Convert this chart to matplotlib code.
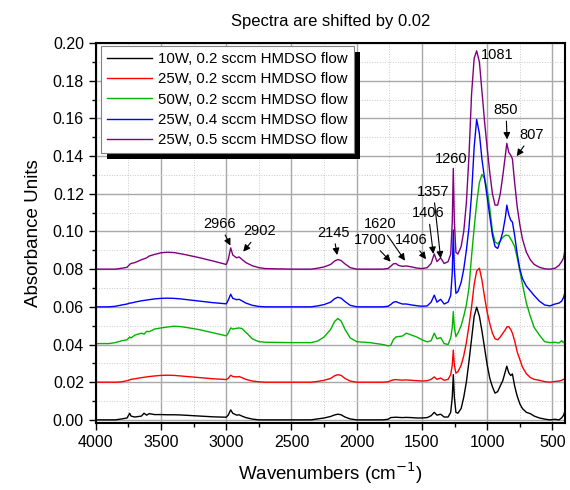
# -*- coding: utf-8 -*-

import numpy as np
import matplotlib as mpl
import matplotlib.pyplot as plt
from matplotlib.patches import Rectangle
from matplotlib.transforms import IdentityTransform
from matplotlib.ticker import MultipleLocator

mpl.rcParams['font.family'] = ['Liberation Sans', 'DejaVu Sans']
mpl.rcParams['savefig.facecolor'] = 'white'

# common wavenumber grid (cm-1)
wavenumbers = [
    4000, 3900, 3850, 3800, 3760, 3740, 3730, 3700, 3650, 3630, 3610, 3590,
    3550, 3500, 3450, 3400, 3350, 3300, 3200, 3100, 3000, 2985, 2966, 2950,
    2920, 2902, 2880, 2850, 2800, 2750, 2700, 2500, 2350, 2300, 2250, 2200,
    2170, 2145, 2120, 2090, 2050, 2000, 1900, 1800, 1760, 1740, 1720, 1700,
    1680, 1650, 1620, 1580, 1540, 1500, 1460, 1430, 1406, 1385, 1357, 1330,
    1300, 1280, 1268, 1260, 1252, 1240, 1225, 1200, 1180, 1160, 1140, 1120,
    1100, 1081, 1060, 1040, 1020, 1000, 980, 960, 940, 920, 900, 880,
    860, 850, 835, 820, 807, 790, 770, 750, 730, 700, 670, 640,
    600, 560, 520, 480, 450, 430, 415, 405,
]

# absorbance before shifting
abs_10w_02 = [
    0.0, 0.0, 0.0, 0.0005, 0.001, 0.0035, 0.002, 0.0015, 0.002, 0.0035, 0.0025, 0.0033,
    0.0028, 0.0028, 0.0027, 0.0027, 0.0026, 0.0024, 0.002, 0.0016, 0.0014, 0.0025, 0.0053, 0.0035,
    0.0025, 0.0027, 0.002, 0.0012, 0.0004, 0.0, 0.0, 0.0, 0.0, 0.0005, 0.001, 0.0018,
    0.0026, 0.003, 0.0027, 0.0015, 0.0005, 0.0, 0.0, 0.0, 0.0003, 0.0012, 0.0013, 0.0014,
    0.0013, 0.0012, 0.0013, 0.0012, 0.001, 0.001, 0.0012, 0.0022, 0.004, 0.0025, 0.003, 0.0015,
    0.0015, 0.004, 0.012, 0.024, 0.012, 0.004, 0.0035, 0.006, 0.012, 0.02, 0.031, 0.043,
    0.055, 0.0598, 0.055, 0.047, 0.038, 0.029, 0.022, 0.0175, 0.0142, 0.015, 0.018, 0.021,
    0.026, 0.0285, 0.025, 0.0235, 0.0244, 0.018, 0.0125, 0.0085, 0.006, 0.004, 0.0033, 0.002,
    0.001, 0.0004, 0.0, 0.0003, 0.0, 0.001, 0.0025, 0.0045,
]
abs_25w_02 = [
    0.0, 0.0, 0.0, 0.0002, 0.0008, 0.0012, 0.0015, 0.0018, 0.0024, 0.0026, 0.0028, 0.003,
    0.0033, 0.0036, 0.0037, 0.0036, 0.0033, 0.003, 0.0024, 0.0018, 0.0014, 0.002, 0.0037, 0.003,
    0.0028, 0.003, 0.0024, 0.0015, 0.0006, 0.0002, 0.0, 0.0, 0.0, 0.0004, 0.001, 0.002,
    0.0034, 0.004, 0.0036, 0.002, 0.0006, 0.0, 0.0, 0.0, 0.0002, 0.0008, 0.0012, 0.0014,
    0.0012, 0.0011, 0.0012, 0.001, 0.0008, 0.0006, 0.0008, 0.0015, 0.0028, 0.0015, 0.0022, 0.001,
    0.0015, 0.004, 0.009, 0.0171, 0.009, 0.0048, 0.0055, 0.009, 0.014, 0.021, 0.03, 0.04,
    0.052, 0.059, 0.0605, 0.054, 0.045, 0.037, 0.031, 0.026, 0.023, 0.0225, 0.024, 0.026,
    0.028, 0.0293, 0.0295, 0.028, 0.026, 0.022, 0.016, 0.012, 0.008, 0.0045, 0.0025, 0.0015,
    0.001, 0.0003, 0.0, 0.0004, 0.0006, 0.001, 0.0015, 0.002,
]
abs_50w_02 = [
    0.0005, 0.0005, 0.001, 0.002, 0.0025, 0.004, 0.0035, 0.005, 0.006, 0.0055, 0.007, 0.0068,
    0.0082, 0.0088, 0.0093, 0.0097, 0.0095, 0.009, 0.0078, 0.0062, 0.0046, 0.006, 0.0088, 0.0082,
    0.0086, 0.0088, 0.0085, 0.0065, 0.003, 0.0015, 0.0012, 0.001, 0.001, 0.0018, 0.004, 0.008,
    0.0122, 0.0138, 0.0125, 0.008, 0.0035, 0.0015, 0.001, 0.0, -0.0007, -0.0005, 0.0025, 0.004,
    0.0042, 0.0045, 0.006, 0.005, 0.004, 0.0025, 0.0014, 0.002, 0.006, 0.003, 0.0037, 0.0005,
    0.0, 0.0035, 0.009, 0.0175, 0.009, 0.0042, 0.006, 0.01, 0.015, 0.021, 0.03, 0.047,
    0.062, 0.075, 0.086, 0.0903, 0.088, 0.082, 0.072, 0.06, 0.0545, 0.0535, 0.055, 0.057,
    0.058, 0.058, 0.0578, 0.056, 0.0545, 0.052, 0.046, 0.039, 0.032, 0.022, 0.015, 0.009,
    0.005, 0.0015, 0.001, 0.0012, 0.0008, 0.002, 0.001, 0.002,
]
abs_25w_04 = [
    0.0, 0.0, 0.0003, 0.001, 0.0015, 0.002, 0.002, 0.0025, 0.0032, 0.0034, 0.0036, 0.0038,
    0.0042, 0.0045, 0.0046, 0.0045, 0.0042, 0.0038, 0.003, 0.0022, 0.0016, 0.0035, 0.0067, 0.0045,
    0.0038, 0.004, 0.0032, 0.002, 0.0008, 0.0002, 0.0, 0.0, 0.0, 0.0005, 0.0012, 0.0025,
    0.0043, 0.0051, 0.0046, 0.0028, 0.0008, 0.0, 0.0, 0.0, 0.0003, 0.0012, 0.0024, 0.0028,
    0.0022, 0.0015, 0.0015, 0.001, 0.0006, 0.0003, 0.0005, 0.0025, 0.0062, 0.0025, 0.004, 0.0015,
    0.0025, 0.006, 0.018, 0.0408, 0.02, 0.0072, 0.008, 0.013, 0.02, 0.03, 0.042, 0.06,
    0.085, 0.0995, 0.092, 0.078, 0.068, 0.058, 0.048, 0.038, 0.032, 0.031, 0.035, 0.04,
    0.048, 0.054, 0.049, 0.046, 0.045, 0.038, 0.028, 0.02, 0.015, 0.011, 0.0085, 0.006,
    0.003, 0.001, 0.0005, 0.0015, 0.002, 0.003, 0.005, 0.0075,
]
abs_25w_05 = [
    0.0, 0.0, 0.0, 0.0005, 0.001, 0.0025, 0.003, 0.0035, 0.005, 0.0055, 0.006, 0.007,
    0.0078, 0.0087, 0.009, 0.0088, 0.0082, 0.0075, 0.006, 0.0043, 0.0025, 0.005, 0.0113, 0.0075,
    0.006, 0.0065, 0.0052, 0.0035, 0.0018, 0.0008, 0.0003, 0.0, 0.0, 0.0005, 0.0012, 0.0025,
    0.0043, 0.0051, 0.0046, 0.0028, 0.0008, 0.0, 0.0, 0.0, 0.0004, 0.0015, 0.0028, 0.003,
    0.002, 0.0015, 0.0017, 0.0012, 0.0006, 0.0003, 0.0008, 0.003, 0.0081, 0.004, 0.006, 0.003,
    0.004, 0.008, 0.025, 0.0535, 0.025, 0.009, 0.008, 0.012, 0.02, 0.035, 0.06, 0.093,
    0.112, 0.1159, 0.11, 0.094, 0.078, 0.064, 0.051, 0.04, 0.034, 0.034, 0.04, 0.05,
    0.061, 0.0668, 0.062, 0.0605, 0.0585, 0.046, 0.033, 0.0235, 0.016, 0.009, 0.005, 0.0025,
    0.001, 0.0002, 0.0, 0.0005, 0.002, 0.004, 0.006, 0.01,
]

series_labels = [
    '10W, 0.2 sccm HMDSO flow',
    '25W, 0.2 sccm HMDSO flow',
    '50W, 0.2 sccm HMDSO flow',
    '25W, 0.4 sccm HMDSO flow',
    '25W, 0.5 sccm HMDSO flow',
]
series_colors = ['#000000', '#ff0000', '#00b400', '#0000ff', '#800080']
shift = 0.02

# label, arrow tip (None = no arrow), text position
peak_notes = [
    ('2966', (2968, 0.0925), (3050, 0.104)),
    ('2902', (2870, 0.0893), (2742, 0.100)),
    ('2145', (2150, 0.0875), (2180, 0.0994)),
    ('1700', (1740, 0.0840), (1899, 0.0955)),
    ('1620', (1630, 0.0845), (1822, 0.1038)),
    ('1406', (1469, 0.0853), (1579, 0.0955)),
    ('1406', (1413, 0.0881), (1452, 0.1097)),
    ('1357', (1357, 0.0857), (1413, 0.1211)),
    ('1260', None, (1273, 0.1383)),
    ('1081', None, (927, 0.1936)),
    ('850', (848, 0.1489), (856, 0.1645)),
    ('807', (774, 0.1400), (659, 0.1512)),
]

fig = plt.figure(figsize=(5.7, 4.9), dpi=100)
ax = fig.add_axes([0.168, 0.137, 0.823, 0.775])

series = [abs_10w_02, abs_25w_02, abs_50w_02, abs_25w_04, abs_25w_05]
for i, values in enumerate(series):
    ax.plot(wavenumbers, np.array(values) + i * shift, color=series_colors[i],
            lw=1.0, label=series_labels[i])

for text, tip, pos in peak_notes:
    if tip is None:
        ax.text(pos[0], pos[1], text, fontsize=10.5, ha='center', va='center')
    else:
        ax.annotate(text, xy=tip, xytext=pos, fontsize=10.5, ha='center', va='center',
                    arrowprops=dict(arrowstyle='-|>', color='black', lw=0.8,
                                    mutation_scale=10, shrinkA=1, shrinkB=0))

ax.set_xlim(4000, 405)
ax.set_ylim(-0.0016, 0.2)
ax.xaxis.set_major_locator(MultipleLocator(500))
ax.xaxis.set_minor_locator(MultipleLocator(250))
ax.yaxis.set_major_locator(MultipleLocator(0.02))
ax.yaxis.set_minor_locator(MultipleLocator(0.01))
ax.yaxis.set_major_formatter(mpl.ticker.FormatStrFormatter('%.2f'))
ax.grid(which='major', color='#a8a8a8', lw=1.0)
ax.grid(which='minor', color='#c8c8c8', lw=0.7, ls=':')
ax.set_axisbelow(True)
ax.tick_params(which='both', direction='out', labelsize=11.5)
ax.tick_params(which='major', length=5, width=1)
ax.tick_params(which='minor', length=3, width=1)
for s in ax.spines.values():
    s.set_linewidth(1.5)

ax.set_xlabel('Wavenumbers (cm$^{-1}$)', fontsize=13.5, labelpad=8)
ax.set_ylabel('Absorbance Units', fontsize=13.5, labelpad=8)
ax.set_title('Spectra are shifted by 0.02', fontsize=12, pad=12)

leg = ax.legend(loc='upper left', bbox_to_anchor=(0.005, 1.0), fontsize=10.8,
                fancybox=False, framealpha=1, edgecolor='#808080',
                borderpad=0.4, labelspacing=0.42, handlelength=3.0,
                handletextpad=0.4, borderaxespad=0.2)
leg.get_frame().set_linewidth(0.8)
leg.set_zorder(6)

# solid black drop shadow behind the legend
fig.canvas.draw()
bb = leg.get_frame().get_window_extent()
ax.add_artist(Rectangle((bb.x0 + 6, bb.y0 - 6), bb.width, bb.height,
                        transform=IdentityTransform(), facecolor='black',
                        edgecolor='none', zorder=5.5, clip_on=False))

fig.savefig('out.png', dpi=100)
